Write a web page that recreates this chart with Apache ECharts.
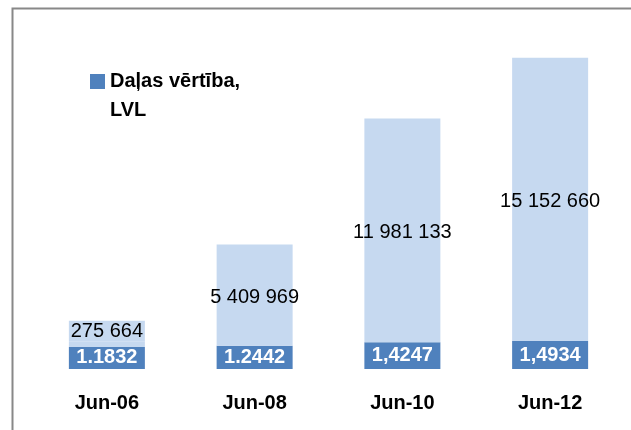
<!DOCTYPE html>
<html>
<head>
<meta charset="utf-8">
<script src="https://cdn.jsdelivr.net/npm/echarts@6/dist/echarts.min.js"></script>
<style>
  html, body { margin: 0; padding: 0; background: #fff; }
  #chart1 { width: 631px; height: 430px; }
</style>
</head>
<body>
<div id="chart1"></div>
<script>
// dati no attēla
const categories = ['Jun-06', 'Jun-08', 'Jun-10', 'Jun-12']
const shareValue = [1.1832, 1.2442, 1.4247, 1.4934]
const shareValueLabels = ['1.1832', '1.2442', '1,4247', '1,4934']
const assets = [275664, 5409969, 11981133, 15152660]

const darkColor = '#4F81BD'
const lightColor = '#C6D9F0'

function fmtSpace(v) {
  return String(v).replace(/\B(?=(\d{3})+(?!\d))/g, ' ')
}

const chart = echarts.init(document.getElementById('chart1'))
chart.setOption({
  animation: false,
  backgroundColor: '#fff',
  textStyle: { fontFamily: 'Liberation Sans' },
  graphic: [
    {
      // rāmis (tikai kreisā un augšējā mala redzamas)
      type: 'rect',
      shape: { x: 12.5, y: 8.5, width: 800, height: 600 },
      style: { fill: null, stroke: '#888', lineWidth: 2 },
      silent: true
    }
  ],
  legend: {
    data: ['Daļas vērtība, LVL'],
    left: 85,
    top: 33,
    icon: 'rect',
    itemWidth: 15,
    itemHeight: 15,
    itemGap: 6,
    // tukša pirmā rinda, lai ikona būtu pretī pirmajai teksta rindai
    formatter: () => ' \nDaļas vērtība,\nLVL',
    textStyle: {
      fontSize: 20,
      fontWeight: 'bold',
      color: '#000',
      lineHeight: 29
    }
  },
  grid: {
    left: 33,
    right: 7,
    top: 40,
    bottom: 61,
    containLabel: false
  },
  xAxis: {
    type: 'category',
    data: categories,
    axisLine: { show: false },
    axisTick: { show: false },
    axisLabel: {
      fontSize: 20,
      fontWeight: 'bold',
      color: '#000',
      margin: 24
    }
  },
  yAxis: {
    type: 'value',
    min: 0,
    max: 17.6,
    show: false,
    splitLine: { show: false }
  },
  series: [
    {
      name: 'Daļas vērtība, LVL',
      type: 'bar',
      stack: 'a',
      barWidth: 76,
      itemStyle: { color: darkColor },
      label: {
        show: true,
        position: 'inside',
        color: '#fff',
        fontSize: 20,
        fontWeight: 'bold',
        formatter: p => shareValueLabels[p.dataIndex]
      },
      data: shareValue
    },
    {
      name: 'Aktīvi',
      type: 'bar',
      stack: 'a',
      barWidth: 76,
      itemStyle: { color: lightColor },
      label: {
        show: true,
        position: 'inside',
        color: '#000',
        fontSize: 20,
        offset: [0, 2],
        formatter: p => fmtSpace(assets[p.dataIndex])
      },
      data: assets.map(v => {
        const item = { value: v / 1e6 }
        if (v < 1e6) {
          // mazai vērtībai etiķete virs stabiņa
          item.label = {
            position: 'top',
            distance: 0,
            offset: [0, 0],
            backgroundColor: lightColor,
            width: 76,
            align: 'center',
            padding: [1, 0, 0, 0]
          }
        }
        return item
      })
    }
  ]
})
</script>
</body>
</html>
